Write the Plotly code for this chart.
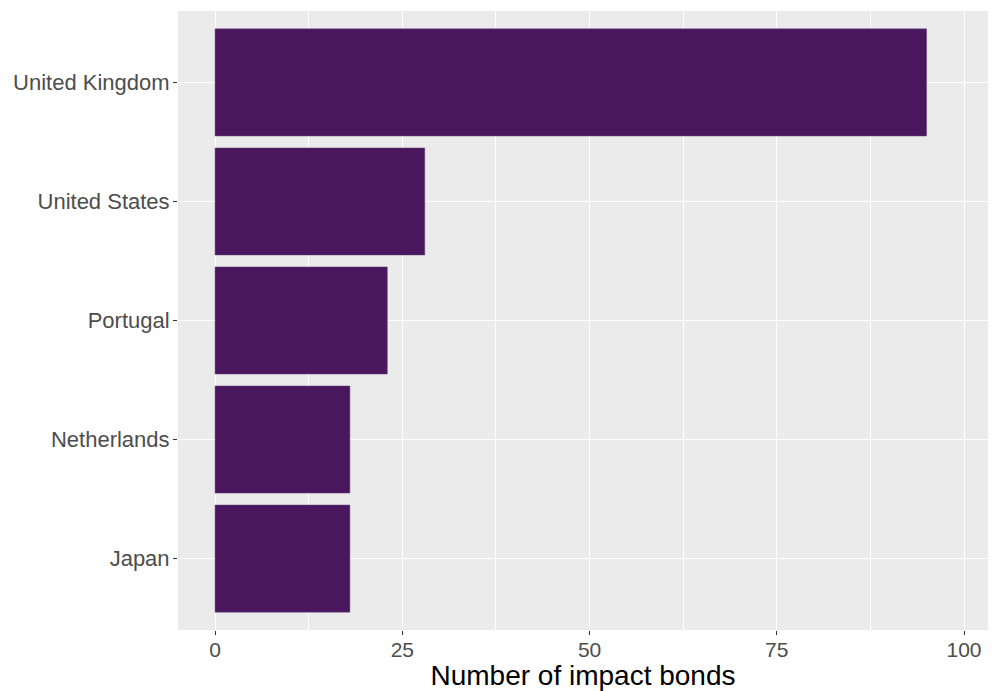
import plotly.graph_objects as go

countries = ["United Kingdom", "United States", "Portugal", "Netherlands", "Japan"]
bonds = [95, 28, 23, 18, 18]
x_ticks = [0, 25, 50, 75, 100]

fig = go.Figure(go.Bar(
    x=bonds, y=countries, orientation="h",
    marker=dict(color="#4a165e", line=dict(color="#6a4a7e", width=0.5)),
    width=0.9,
))

fig.update_layout(
    width=992, height=691,
    margin=dict(l=178, r=4, t=11, b=58),
    paper_bgcolor="white", plot_bgcolor="#EBEBEB",
    font=dict(family="Liberation Sans, Arial, sans-serif"),
    showlegend=False,
    bargap=0.1,
)
fig.update_xaxes(
    range=[-4.95, 103.2],
    tickvals=x_ticks, ticktext=[str(v) for v in x_ticks],
    showgrid=True, gridcolor="white", gridwidth=1.2,
    minor=dict(tickvals=[12.5, 37.5, 62.5, 87.5], showgrid=True, gridcolor="white", gridwidth=0.6, ticklen=0),
    ticks="outside", ticklen=4, tickcolor="#333333", tickwidth=1,
    tickfont=dict(size=21, color="#4D4D4D"),
    ticklabelstandoff=-3,
    title=dict(text="Number of impact bonds", font=dict(size=28, color="black"), standoff=6),
    zeroline=False, showline=False,
)
fig.update_yaxes(
    categoryorder="array", categoryarray=countries,
    autorange=False, range=[4.6, -0.6],
    showgrid=True, gridcolor="white", gridwidth=1.2,
    ticks="outside", ticklen=4, tickcolor="#333333", tickwidth=1,
    tickfont=dict(size=22, color="#4D4D4D"),
    ticklabelstandoff=-1,
    zeroline=False, showline=False,
)

fig.write_html("out.html", config={"displayModeBar": False},
               post_script="document.body.style.margin='0';document.body.style.overflow='hidden';")
